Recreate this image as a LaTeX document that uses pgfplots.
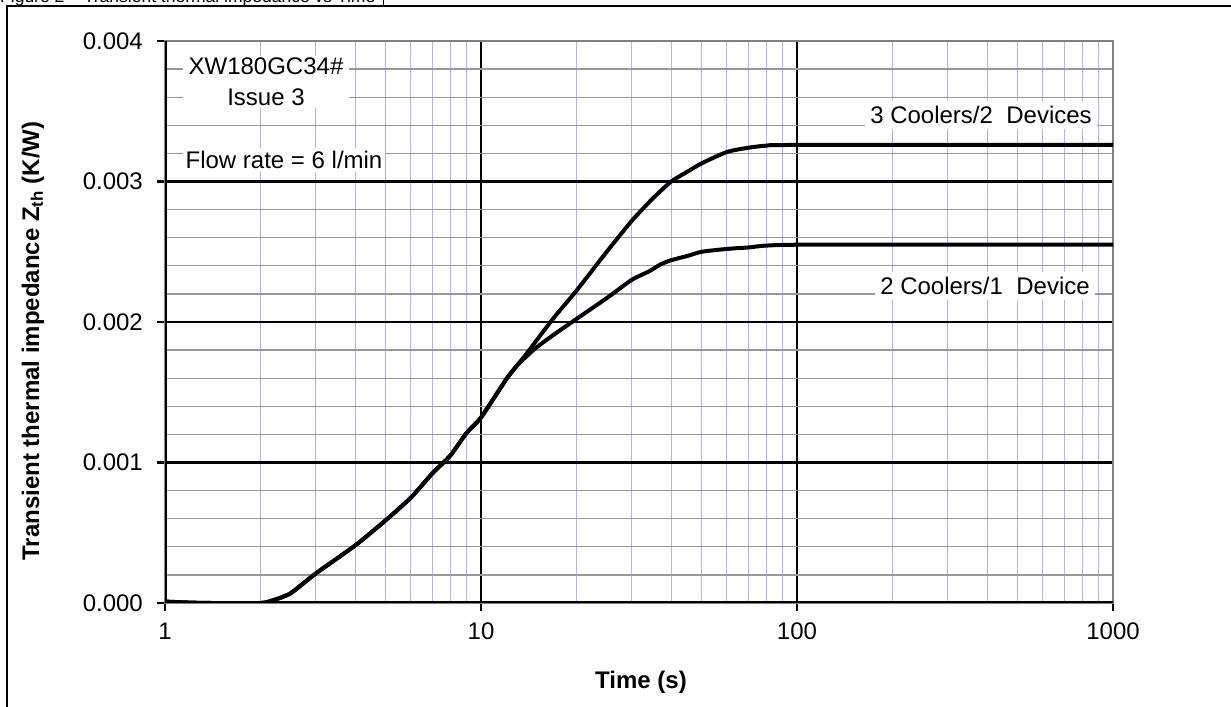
\documentclass[border=0pt]{standalone}
\usepackage{pgfplots}
\pgfplotsset{compat=1.18}
\usepackage{fontspec}
\setmainfont{Liberation Sans}
\newcommand\fs{\fontsize{24bp}{31bp}\selectfont}
\definecolor{minorblue}{RGB}{176,176,255}

\begin{document}
\begin{tikzpicture}
\begin{axis}[
  at={(165bp,104bp)}, anchor=south west,
  scale only axis, width=948bp, height=562bp,
  xmode=log, xmin=1, xmax=1000, ymin=0, ymax=0.004,
  xtick={1,10,100,1000}, xticklabels={1,10,100,1000},
  ytick={0,0.001,0.002,0.003,0.004},
  minor y tick num=4,
  scaled y ticks=false,
  /pgf/number format/fixed, /pgf/number format/fixed zerofill,
  /pgf/number format/precision=3, /pgf/number format/assume math mode=true,
  yticklabel style={inner sep=0pt, xshift=-14bp},
  xticklabel style={inner sep=0pt, yshift=-12bp},
  ticklabel style={font=\fs},
  tick pos=left, tick align=outside,
  major tick length=8bp, minor tick length=0pt,
  tick style={black, line width=2.5bp},
  grid=both,
  major grid style={black, line width=2.5bp},
  minor y grid style={gray!80, line width=1.3bp},
  minor x grid style={minorblue, line width=1bp},
  axis line style={draw=gray, line width=1.8bp},
]
% 3 Coolers/2 Devices
\addplot[black, line width=4bp, smooth, tension=0.4] coordinates {
  (1,0.00001) (1.2,0.000003) (1.4,0) (2,0) (2.2,0.00002) (2.5,0.00007)
  (3,0.00021) (4,0.00041) (5,0.00059) (6,0.00075) (7,0.00092) (8,0.00105)
  (9,0.00121) (10,0.00132) (12,0.00159) (13,0.00169) (14,0.00178)
  (15,0.00187) (17,0.00203) (20,0.00222) (25,0.00250) (30,0.00272)
  (35,0.00288) (40,0.00300) (45,0.00307) (50,0.00313) (60,0.00321)
  (70,0.00324) (80,0.003255) (100,0.00326) (1000,0.00326)
};
% 2 Coolers/1 Device
\addplot[black, line width=4bp, smooth, tension=0.4] coordinates {
  (1,0.00001) (1.2,0.000003) (1.4,0) (2,0) (2.2,0.00002) (2.5,0.00007)
  (3,0.00021) (4,0.00041) (5,0.00059) (6,0.00075) (7,0.00092) (8,0.00105)
  (9,0.00121) (10,0.00132) (12,0.00159) (13,0.00169) (14,0.00176)
  (15,0.00182) (17,0.00191) (20,0.00202) (25,0.00217) (30,0.00230)
  (34,0.00236) (37,0.00241) (40,0.00244) (45,0.00247) (50,0.00250)
  (60,0.00252) (70,0.00253) (100,0.00255) (1000,0.00255)
};
\draw[black, line width=3bp] (rel axis cs:0,1) -- (rel axis cs:0,0) -- (rel axis cs:1,0);
\end{axis}

% annotations
\node[fill=white, align=center, inner xsep=6bp, inner ysep=2bp, font=\fs] at (266bp,625bp) {XW180GC34\#\\Issue 3};
\node[fill=white, inner sep=3bp, font=\fs] at (284bp,547bp) {Flow rate = 6 l/min};
\node[fill=white, inner sep=5bp, font=\fs] at (981bp,592bp) {3 Coolers/2\ \ Devices};
\node[fill=white, inner sep=5bp, font=\fs] at (985bp,421bp) {2 Coolers/1\ \ Device};

% axis titles
\node[font=\fs\bfseries] at (641bp,25bp) {Time (s)};
\node[font=\fs\bfseries, rotate=90] at (33bp,366bp) {Transient thermal impedance Z\textsubscript{th} (K/W)};

% frame and cut-off caption
\draw[line width=2bp] (7bp,-20bp) -- (7bp,701bp) -- (1260bp,701bp);
\draw[line width=1bp] (383bp,701bp) -- (383bp,720bp);
\node[anchor=base west, inner sep=0pt, font=\fontsize{17.5bp}{20bp}\selectfont] at (0bp,704bp) {Figure 2 -- Transient thermal impedance vs Time};

\pgfresetboundingbox
\path[use as bounding box] (0bp,0bp) rectangle (1231bp,707bp);
\end{tikzpicture}
\end{document}
